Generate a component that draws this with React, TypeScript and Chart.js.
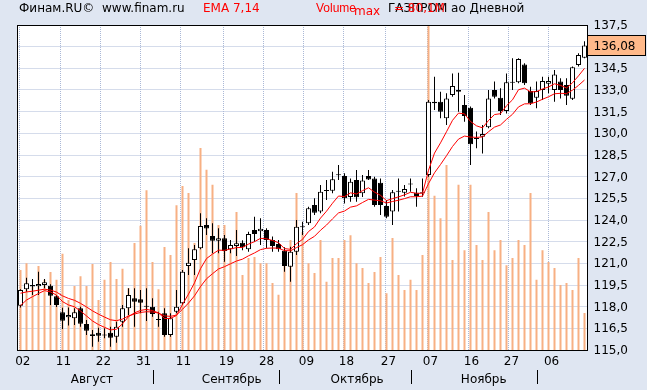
import { useEffect, useRef } from "react";
import { Chart, registerables } from "chart.js";

Chart.register(...registerables);

// ---- data ----
const dates = [
  "02.08","03.08","04.08","07.08","08.08","09.08","10.08","11.08","14.08","15.08","16.08","17.08","18.08","21.08","22.08","23.08","24.08","25.08","28.08","29.08","30.08","31.08",
  "01.09","04.09","05.09","06.09","07.09","08.09","11.09","12.09","13.09","14.09","15.09","18.09","19.09","20.09","21.09","22.09","25.09","26.09","27.09","28.09","29.09",
  "02.10","03.10","04.10","05.10","06.10","09.10","10.10","11.10","12.10","13.10","16.10","17.10","18.10","19.10","20.10","23.10","24.10","25.10","26.10","27.10","30.10","31.10",
  "01.11","02.11","03.11","07.11","08.11","09.11","10.11","13.11","14.11","15.11","16.11","17.11","20.11","21.11","22.11","23.11","24.11","27.11","28.11","29.11","30.11",
  "01.12","04.12","05.12","06.12","07.12","08.12","11.12","13.12","14.12",
];

const openP = [
  118.07,119.2,119.5,119.41,119.5,119.45,118.72,117.61,117.26,117.19,
  117.89,116.8,116.09,116.2,116.03,116.2,115.92,116.96,117.89,118.58,
  118.51,118.0,118.0,117.08,117.54,116.04,117.65,118.23,120.82,121.23,
  122.04,123.65,122.89,122.57,122.73,121.97,122.2,122.43,121.97,123.31,
  123.22,123.31,122.62,122.34,121.87,120.77,121.8,123.5,123.77,125.04,
  124.58,126.0,126.03,127.1,127.05,125.6,126.77,125.85,127.05,126.88,
  126.58,124.97,124.58,125.95,125.89,126.5,125.89,125.85,127.12,132.08,
  132.19,131.04,132.65,133.0,131.96,131.77,129.6,129.77,130.42,133.0,
  132.46,131.54,133.5,133.54,134.77,132.93,132.46,133.0,133.44,133.0,
  133.58,133.35,132.39,134.73,135.23,
];

const highP = [
  119.2,120.0,119.92,120.42,119.92,119.55,118.8,117.93,117.95,117.89,
  118.0,117.08,116.38,116.54,116.5,116.61,116.96,118.12,119.27,119.27,
  119.15,119.27,118.58,117.65,117.89,117.54,119.15,120.54,122.04,122.27,
  124.46,124.12,123.77,123.43,122.96,122.61,123.31,122.6,123.19,124.23,
  124.12,123.43,122.85,122.62,122.11,122.15,124.0,123.88,124.92,125.5,
  126.42,126.77,127.34,127.81,127.23,126.88,127.46,127.11,127.46,127.0,
  126.88,125.38,126.08,126.88,126.42,126.88,126.19,126.88,132.31,133.92,
  132.88,132.77,134.15,134.2,132.65,131.85,130.12,130.58,133.0,133.58,
  133.12,134.15,135.19,135.19,134.85,133.23,133.58,133.92,133.92,134.38,
  133.81,133.81,134.62,135.54,136.38,
];

const lowP = [
  117.95,119.04,118.8,118.81,119.27,118.12,117.98,116.45,116.7,116.73,
  116.61,116.04,115.23,115.57,115.81,115.23,115.5,116.61,117.42,116.61,
  117.54,117.0,117.31,116.61,115.92,115.92,117.54,118.12,120.19,120.19,
  121.97,122.96,121.69,121.69,121.11,121.69,121.5,121.9,121.8,122.5,
  122.27,122.04,121.8,121.8,120.42,119.73,121.58,122.96,123.65,124.35,
  124.46,125.38,125.85,126.77,125.15,125.27,125.27,125.6,126.77,124.92,
  124.35,124.12,123.65,124.58,125.62,125.96,124.92,125.61,127.0,131.62,
  131.04,130.58,132.54,131.5,130.81,127.81,128.96,128.6,130.35,132.42,
  131.27,131.38,133.0,133.46,133.35,131.96,131.73,132.31,132.77,132.19,
  132.42,131.96,132.31,134.62,135.19,
];

const closeP = [
  119.15,119.62,119.4,119.57,119.69,118.76,118.12,117.03,117.42,117.61,
  116.82,116.34,115.97,115.99,116.0,115.85,116.61,117.89,118.81,118.34,
  118.27,118.0,117.49,117.08,116.04,117.19,118.0,120.42,121.04,121.97,
  123.58,123.42,122.57,122.73,121.85,122.27,122.39,122.11,123.03,123.03,
  123.4,122.62,122.2,121.97,120.82,121.8,123.54,123.54,124.81,124.5,
  125.96,126.04,126.82,127.15,125.5,126.65,125.57,126.73,126.81,125.04,
  125.04,124.23,125.92,125.96,126.15,126.45,125.66,125.85,132.19,132.19,
  131.5,132.42,133.27,132.88,131.2,129.24,129.6,129.96,132.42,132.54,
  131.54,133.54,133.54,135.15,133.46,132.08,132.93,133.62,133.62,134.08,
  133.0,132.61,134.57,135.42,136.08,
];

// volume, millions
const volumeM = [
  19.7,21.4,15.5,20.7,17.3,19.2,17.3,23.7,12.3,15.8,
  18.2,15.8,21.2,12.3,17.3,21.7,17.5,20.0,15.3,26.4,
  30.6,39.4,21.7,15.0,25.4,23.4,35.7,40.4,38.7,26.4,
  49.8,44.4,40.7,30.8,30.8,24.6,34.0,18.5,22.7,22.9,
  21.4,21.4,16.5,13.6,21.4,27.1,38.7,29.1,21.4,19.0,
  27.1,16.8,22.7,22.7,27.1,28.3,21.4,20.2,16.5,19.2,
  22.9,14.0,27.6,18.5,14.8,17.3,14.8,23.4,80.1,38.0,
  32.5,45.6,22.2,40.7,24.6,40.7,25.9,22.2,34.0,24.6,
  27.1,20.9,22.7,27.1,25.9,38.7,17.3,24.6,21.7,20.2,
  16.0,16.5,14.8,22.7,9.1,
];

const ema7 = [
  118.07,118.46,118.69,118.91,119.11,119.02,118.80,118.35,118.12,117.99,
  117.70,117.36,117.01,116.76,116.57,116.39,116.44,116.81,117.31,117.57,
  117.74,117.81,117.73,117.57,117.18,117.19,117.39,118.15,118.87,119.65,
  120.63,121.33,121.64,121.91,121.90,121.99,122.09,122.10,122.33,122.50,
  122.73,122.70,122.58,122.43,122.02,121.97,122.36,122.66,123.20,123.52,
  124.13,124.61,125.16,125.66,125.62,125.88,125.80,126.03,126.23,125.93,
  125.71,125.34,125.48,125.60,125.74,125.92,125.85,125.85,127.44,128.63,
  129.34,130.11,130.90,131.40,131.35,130.82,130.52,130.38,130.89,131.30,
  131.36,131.91,132.32,133.02,133.13,132.87,132.89,133.07,133.21,133.43,
  133.32,133.14,133.50,133.98,134.50,
];

const ema14 = [
  118.93,119.02,119.07,119.14,119.21,119.15,119.01,118.75,118.57,118.44,
  118.23,117.98,117.71,117.48,117.28,117.09,117.03,117.14,117.36,117.49,
  117.60,117.65,117.63,117.56,117.36,117.33,117.42,117.82,118.25,118.75,
  119.39,119.93,120.28,120.61,120.77,120.97,121.16,121.29,121.52,121.72,
  121.95,122.04,122.06,122.05,121.88,121.87,122.09,122.29,122.62,122.87,
  123.29,123.65,124.08,124.49,124.62,124.89,124.98,125.21,125.43,125.38,
  125.33,125.18,125.28,125.37,125.48,125.61,125.61,125.65,126.52,127.27,
  127.84,128.45,129.09,129.60,129.81,129.74,129.72,129.75,130.11,130.43,
  130.58,130.97,131.32,131.83,132.04,132.05,132.17,132.36,132.53,132.74,
  132.77,132.75,132.99,133.32,133.69,
];

const xTickDays = ["02","11","22","31","11","19","28","09","18","27","07","16","27","06"];
const xTickPos = [-0.2, 6.58, 13.25, 19.92, 26.58, 33.75, 40.42, 47.08, 53.75, 60.75, 67.75, 74.58, 81.25, 87.92];
const monthNames = ["Август", "Сентябрь", "Октябрь", "Ноябрь"];
const monthLabelPos = [11.9, 35.2, 56.1, 77.2];
const monthStartIdx = [22, 43, 65, 86];

const priceMin = 115;
const priceMax = 137.5;
const priceStep = 1.5;
const volumeMax = 80.1;

const FONT = '"DejaVu Sans", Verdana, sans-serif';
const GRID = "#aab8d6";

const fmt = (v: number) => v.toFixed(1).replace(".", ",");

const decorPlugin = {
  id: "decor",
  beforeDraw(chart: any) {
    const { ctx, chartArea: a } = chart;
    ctx.save();
    ctx.fillStyle = "#dfe6f2";
    ctx.fillRect(0, 0, chart.width, chart.height);
    ctx.fillStyle = "#ffffff";
    ctx.fillRect(a.left, a.top, a.right - a.left, a.bottom - a.top);
    ctx.restore();
  },
  beforeDatasetsDraw(chart: any) {
    const { ctx, chartArea: a, scales } = chart;
    const xs = scales.x;
    ctx.save();
    ctx.strokeStyle = GRID;
    ctx.lineWidth = 1;
    ctx.setLineDash([1, 1]);
    ctx.beginPath();
    xTickPos.forEach((v) => {
      const px = Math.round(xs.getPixelForValue(v)) + 0.5;
      ctx.moveTo(px, a.top);
      ctx.lineTo(px, a.bottom);
    });
    ctx.stroke();
    ctx.restore();
  },
  afterDraw(chart: any) {
    const { ctx, chartArea: a, scales } = chart;
    const xs = scales.x;
    const ys = scales.y;
    ctx.save();
    // frame
    ctx.strokeStyle = "#000";
    ctx.lineWidth = 1;
    const l = Math.floor(a.left) + 0.5;
    const r = Math.floor(a.right) + 0.5;
    const t = Math.floor(a.top) + 0.5;
    const b = Math.floor(a.bottom) + 0.5;
    ctx.strokeRect(l, t, r - l, b - t);

    // header
    ctx.textAlign = "left";
    ctx.textBaseline = "alphabetic";
    ctx.font = `12px ${FONT}`;
    ctx.fillStyle = "#000";
    ctx.fillText("Финам.RU©", 19, 12);
    ctx.fillText("www.finam.ru", 102, 12);
    ctx.fillStyle = "#ff0000";
    ctx.fillText("EMA 7,14", 203, 12);
    ctx.font = `12px "Liberation Sans", Arial, sans-serif`;
    ctx.fillText("Volume", 316, 12);
    ctx.font = `12px ${FONT}`;
    ctx.fillText("max", 354, 15);
    ctx.fillStyle = "#000";
    ctx.fillText("ГАЗПРОМ ао Дневной", 388, 12);
    ctx.fillStyle = "#ff0000";
    ctx.fillText("= 80,1М", 394, 12);

    // date labels
    ctx.fillStyle = "#000";
    ctx.textAlign = "center";
    xTickPos.forEach((v, i) => {
      ctx.fillText(xTickDays[i], xs.getPixelForValue(v) + 3.5, 365);
    });

    // month row
    monthNames.forEach((m, i) => {
      ctx.fillText(m, xs.getPixelForValue(monthLabelPos[i]), 383);
    });
    ctx.beginPath();
    monthStartIdx.forEach((idx) => {
      const px = Math.round(xs.getPixelForValue(idx)) + 0.5;
      ctx.moveTo(px, 370);
      ctx.lineTo(px, 384);
    });
    ctx.stroke();

    // last price box
    const last = closeP[closeP.length - 1];
    const py = Math.round(ys.getPixelForValue(last));
    const bx = Math.floor(a.right) + 0.5;
    ctx.fillStyle = "#ffb98a";
    ctx.fillRect(bx, py - 10.5, 58, 20);
    ctx.strokeRect(bx, py - 10.5, 58, 20);
    ctx.fillStyle = "#000";
    ctx.textAlign = "left";
    ctx.textBaseline = "middle";
    ctx.fillText(last.toFixed(2).replace(".", ","), 593.5, py + 1);
    ctx.restore();
  },
};

export default function App() {
  const ref = useRef<HTMLCanvasElement>(null);

  useEffect(() => {
    document.body.style.margin = "0";
    const canvas = ref.current;
    if (!canvas) return;
    Chart.defaults.font.family = FONT;
    Chart.defaults.font.size = 12;
    Chart.defaults.color = "#000";

    const up = closeP.map((c, i) => c >= openP[i]);

    const chart = new Chart(canvas, {
      type: "bar",
      data: {
        labels: dates,
        datasets: [
          {
            type: "line",
            label: "EMA 7",
            data: ema7,
            borderColor: "#ff0000",
            borderWidth: 1,
            pointRadius: 0,
            tension: 0,
            xAxisID: "x",
            yAxisID: "y",
            order: 0,
          } as any,
          {
            type: "line",
            label: "EMA 14",
            data: ema14,
            borderColor: "#ff0000",
            borderWidth: 1,
            pointRadius: 0,
            tension: 0,
            xAxisID: "x",
            yAxisID: "y",
            order: 0,
          } as any,
          {
            type: "bar",
            label: "body",
            data: openP.map((o, i) => [o, closeP[i]]),
            backgroundColor: up.map((u) => (u ? "#ffffff" : "#000000")),
            borderColor: "#000000",
            borderWidth: 1,
            borderSkipped: false,
            barThickness: 5,
            minBarLength: 1,
            grouped: false,
            inflateAmount: 0,
            xAxisID: "x",
            yAxisID: "y",
            order: 1,
          } as any,
          {
            type: "bar",
            label: "wick",
            data: lowP.map((lo, i) => [lo, highP[i]]),
            backgroundColor: "#000000",
            borderWidth: 0,
            barThickness: 1,
            grouped: false,
            inflateAmount: 0,
            xAxisID: "x",
            yAxisID: "y",
            order: 2,
          } as any,
          {
            type: "bar",
            label: "Volume",
            data: volumeM,
            backgroundColor: "#f7b083",
            borderWidth: 0,
            barThickness: 2,
            grouped: false,
            inflateAmount: 0,
            xAxisID: "x",
            yAxisID: "yv",
            order: 3,
          } as any,
        ],
      },
      options: {
        responsive: false,
        animation: false,
        devicePixelRatio: 1,
        events: [],
        layout: { padding: { left: 17.5, top: 25, right: 0, bottom: 40 } },
        plugins: {
          legend: { display: false },
          title: { display: false },
          tooltip: { enabled: false },
        },
        scales: {
          x: {
            type: "category",
            display: false,
            offset: true,
            grid: { display: false },
          },
          y: {
            type: "linear",
            position: "right",
            min: priceMin,
            max: priceMax,
            afterFit: (s: any) => {
              s.width = 59.5;
            },
            ticks: {
              stepSize: priceStep,
              autoSkip: false,
              padding: 6,
              labelOffset: 1,
              color: "#000",
              font: { family: FONT, size: 12 },
              callback: (v: any) => fmt(Number(v)),
            },
            grid: { color: GRID, lineWidth: 1, drawTicks: false },
            border: { display: false, dash: [1, 1] },
          } as any,
          yv: {
            type: "linear",
            display: false,
            min: 0,
            max: volumeMax,
          },
        },
      },
      plugins: [decorPlugin],
    } as any);

    return () => chart.destroy();
  }, []);

  return (
    <div style={{ position: "absolute", left: 0, top: 0, width: 647, height: 390 }}>
      <canvas ref={ref} width={647} height={390} style={{ display: "block", width: 647, height: 390 }} />
    </div>
  );
}
